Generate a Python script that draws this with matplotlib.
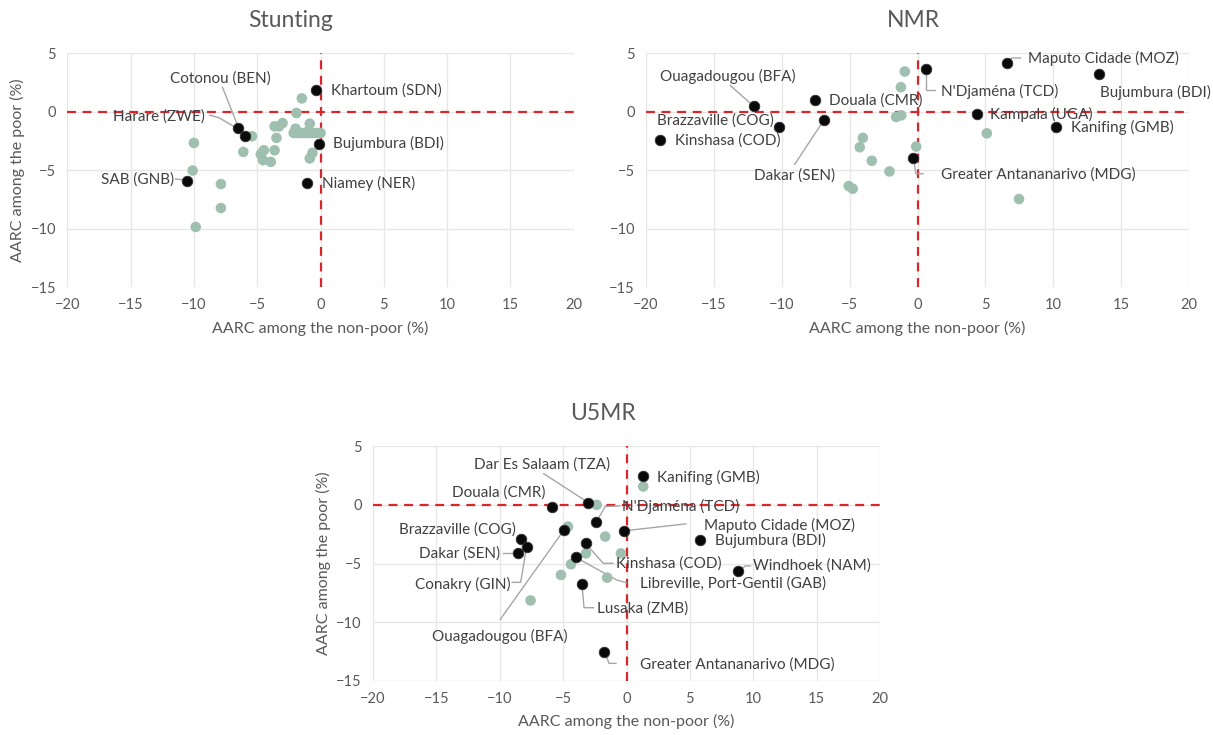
import matplotlib
matplotlib.use("Agg")
import matplotlib.pyplot as plt

plt.rcParams['font.family'] = ['Lato', 'DejaVu Sans']

# ---------------- Data ----------------
# Stunting
st_gray_x = [-1.48, -1.9, -0.85, -3.0, -3.63, -3.27, -3.48, -1.97, -2.12, -1.8, -1.5, -1.2,
             -0.9, -0.6, -0.3, 0.0, -5.42, -10.0, -6.1, -4.48, -3.63, -4.72, -4.54, -3.93,
             -0.64, -0.85, -10.1, -7.87, -7.87, -9.86, -2.0, -1.1]
st_gray_y = [1.14, -0.11, -1.02, -0.97, -1.25, -1.25, -2.24, -1.45, -1.82, -1.82, -1.82, -1.82,
             -1.82, -1.82, -1.82, -1.82, -2.1, -2.67, -3.44, -3.3, -3.3, -3.64, -4.15, -4.29,
             -3.52, -4.0, -5.03, -6.19, -8.24, -9.86, -1.7, -1.75]
st_names = ["Khartoum (SDN)", "Bujumbura (BDI)", "Niamey (NER)", "SAB (GNB)",
            "Cotonou (BEN)", "Harare (ZWE)"]
st_x = [-0.33, -0.1, -1.06, -10.56, -6.5, -6.0]
st_y = [1.82, -2.73, -6.08, -5.9, -1.36, -2.1]

# NMR
nmr_gray_x = [-0.94, -1.23, -1.2, -1.58, -4.03, -4.26, -3.37, -0.1, -2.07, -5.07, -4.78, 5.1, 7.47]
nmr_gray_y = [3.44, 2.1, -0.31, -0.45, -2.24, -3.04, -4.2, -2.98, -5.11, -6.36, -6.59, -1.85, -7.47]
nmr_names = ["Maputo Cidade (MOZ)", "Bujumbura (BDI)", "N'Djaména (TCD)", "Ouagadougou (BFA)",
             "Douala (CMR)", "Dakar (SEN)", "Brazzaville (COG)", "Kinshasa (COD)",
             "Kampala (UGA)", "Kanifing (GMB)", "Greater Antananarivo (MDG)"]
nmr_x = [6.6, 13.37, 0.65, -12.04, -7.59, -6.92, -10.19, -18.97, 4.35, 10.2, -0.36]
nmr_y = [4.18, 3.21, 3.69, 0.45, 1.02, -0.74, -1.28, -2.39, -0.17, -1.28, -4.0]

# U5MR
u5_gray_x = [1.32, -2.35, -4.62, -1.68, -3.2, -0.44, -4.38, -5.17, -1.53, -7.57]
u5_gray_y = [1.56, 0.0, -1.85, -2.7, -4.13, -4.13, -5.06, -5.97, -6.2, -8.14]
u5_names = ["Kanifing (GMB)", "Dar Es Salaam (TZA)", "Douala (CMR)", "N'Djaména (TCD)",
            "Maputo Cidade (MOZ)", "Bujumbura (BDI)", "Ouagadougou (BFA)", "Brazzaville (COG)",
            "Conakry (GIN)", "Dakar (SEN)", "Kinshasa (COD)", "Libreville, Port-Gentil (GAB)",
            "Lusaka (ZMB)", "Windhoek (NAM)", "Greater Antananarivo (MDG)"]
u5_x = [1.29, -3.02, -5.84, -2.38, -0.17, 5.78, -4.96, -8.35, -7.87, -8.54, -3.23, -3.99,
        -3.5, 8.8, -1.77]
u5_y = [2.42, 0.2, -0.17, -1.42, -2.22, -3.02, -2.16, -2.87, -3.61, -4.07, -3.27, -4.44,
        -6.77, -5.63, -12.52]

x_ticks = [-20, -15, -10, -5, 0, 5, 10, 15, 20]
y_ticks = [-15, -10, -5, 0, 5]

# ---------------- Label placement (positions, alignment, leader paths) ----------------
st_lab = {
    "Khartoum (SDN)": (0.8, 1.82, 'left', None),
    "Bujumbura (BDI)": (1.0, -2.73, 'left', None),
    "Niamey (NER)": (0.1, -6.1, 'left', None),
    "SAB (GNB)": (-11.6, -5.8, 'right', [(-11.45, -5.75), (-10.75, -5.85)]),
    "Cotonou (BEN)": (-7.9, 2.87, 'center', [(-7.75, 2.1), (-6.5, -1.3)]),
    "Harare (ZWE)": (-9.1, -0.45, 'right', [(-8.75, -0.3), (-8.05, -0.5), (-6.3, -1.6)]),
}
nmr_lab = {
    "Maputo Cidade (MOZ)": (8.1, 4.52, 'left', [(6.7, 4.3), (6.95, 4.6), (7.6, 4.6)]),
    "Bujumbura (BDI)": (13.45, 1.62, 'left', None),
    "N'Djaména (TCD)": (1.75, 1.76, 'left', [(0.65, 3.4), (0.65, 1.82), (1.3, 1.82)]),
    "Ouagadougou (BFA)": (-13.95, 3.0, 'center', [(-13.8, 2.25), (-12.1, 0.5)]),
    "Douala (CMR)": (-6.49, 0.97, 'left', None),
    "Dakar (SEN)": (-9.03, -5.5, 'center', [(-9.05, -4.5), (-6.95, -0.8)]),
    "Brazzaville (COG)": (-14.9, -0.74, 'center', None),
    "Kinshasa (COD)": (-17.9, -2.5, 'left', None),
    "Kampala (UGA)": (5.36, -0.26, 'left', None),
    "Kanifing (GMB)": (11.3, -1.36, 'left', None),
    "Greater Antananarivo (MDG)": (1.75, -5.4, 'left', [(-0.27, -4.15), (-0.13, -5.3), (0.4, -5.3)]),
}
u5_lab = {
    "Kanifing (GMB)": (2.44, 2.33, 'left', None),
    "Dar Es Salaam (TZA)": (-6.65, 3.47, 'center', [(-6.53, 2.65), (-3.14, 0.28)]),
    "Douala (CMR)": (-10.08, 1.05, 'center', None),
    "N'Djaména (TCD)": (-0.32, -0.14, 'left', [(-2.29, -1.28), (-1.68, -0.14), (-0.53, -0.09)]),
    "Maputo Cidade (MOZ)": (6.14, -1.79, 'left', [(4.68, -1.62), (-0.02, -2.19)]),
    "Bujumbura (BDI)": (6.96, -3.02, 'left', None),
    "Ouagadougou (BFA)": (-10.0, -11.24, 'center', [(-9.96, -9.76), (-5.08, -2.36)]),
    "Brazzaville (COG)": (-13.36, -2.08, 'center', None),
    "Conakry (GIN)": (-12.9, -6.74, 'center', [(-9.02, -6.6), (-8.35, -6.6), (-7.9, -3.7)]),
    "Dakar (SEN)": (-13.2, -4.13, 'center', [(-9.72, -4.07), (-8.66, -4.07)]),
    "Kinshasa (COD)": (-0.83, -4.98, 'left', [(-3.14, -3.41), (-1.83, -4.98), (-1.08, -4.98)]),
    "Libreville, Port-Gentil (GAB)": (1.1, -6.69, 'left', [(-3.87, -4.55), (-0.77, -6.4), (-0.02, -6.63)]),
    "Lusaka (ZMB)": (-2.29, -8.85, 'left', [(-3.5, -6.97), (-3.35, -8.76), (-2.6, -8.76)]),
    "Windhoek (NAM)": (10.0, -5.2, 'left', [(8.93, -5.55), (9.38, -5.2), (9.78, -5.2)]),
    "Greater Antananarivo (MDG)": (1.1, -13.57, 'left', [(-1.68, -12.66), (-1.38, -13.5), (-0.83, -13.5)]),
}

GRAY = '#9fc0b0'
DARK = '#0a0a0a'
TXT = '#595959'
ANN = '#404040'
RED = '#d9262b'
LEAD = '#a6a6a6'

fig = plt.figure(figsize=(12.13, 7.35), dpi=100)
fig.patch.set_facecolor('white')

ax_st = fig.add_axes([0.0555, 0.6095, 0.4175, 0.318])
ax_nmr = fig.add_axes([0.5326, 0.6095, 0.4477, 0.318])
ax_u5 = fig.add_axes([0.3075, 0.0735, 0.418, 0.3195])


def panel(ax, title, gx, gy, names, bx, by, labs, title_x, title_pad, ylabel=True):
    ax.set_xlim(-20, 20)
    ax.set_ylim(-15, 5)
    ax.set_xticks(x_ticks)
    ax.set_yticks(y_ticks)
    ax.grid(True, color='#e6e6e6', linewidth=0.9)
    ax.set_axisbelow(True)
    for s in ax.spines.values():
        s.set_visible(False)
    ax.tick_params(length=0, labelsize=10.5, labelcolor=TXT, pad=8)
    ax.axhline(0, color=RED, linestyle=(0, (4, 3)), linewidth=1.6, zorder=1)
    ax.axvline(0, color=RED, linestyle=(0, (4, 3)), linewidth=1.6, zorder=1)
    ax.scatter(gx, gy, s=58, color=GRAY, edgecolors='none', zorder=3)
    for n, x, y in zip(names, bx, by):
        lx, ly, ha, path = labs[n]
        if path:
            xs = [p[0] for p in path]
            ys = [p[1] for p in path]
            ax.plot(xs, ys, color=LEAD, linewidth=1.0, zorder=2)
        ax.text(lx, ly, n, ha=ha, va='center', fontsize=11, color=ANN, zorder=5)
    ax.scatter(bx, by, s=58, color=DARK, edgecolors='#333333', linewidths=0.6, zorder=4)
    ax.set_title(title, fontsize=16.5, color=TXT, pad=title_pad, x=title_x)
    ax.set_xlabel('AARC among the non-poor (%)', fontsize=11.5, color=TXT, labelpad=6)
    if ylabel:
        ax.set_ylabel('AARC among the poor (%)', fontsize=11.5, color=TXT, labelpad=4)


panel(ax_st, 'Stunting', st_gray_x, st_gray_y, st_names, st_x, st_y, st_lab, 0.44, 19)
panel(ax_nmr, 'NMR', nmr_gray_x, nmr_gray_y, nmr_names, nmr_x, nmr_y, nmr_lab, 0.493, 19,
      ylabel=False)
panel(ax_u5, 'U5MR', u5_gray_x, u5_gray_y, u5_names, u5_x, u5_y, u5_lab, 0.453, 19)

fig.savefig('out.png', dpi=100, facecolor='white')
